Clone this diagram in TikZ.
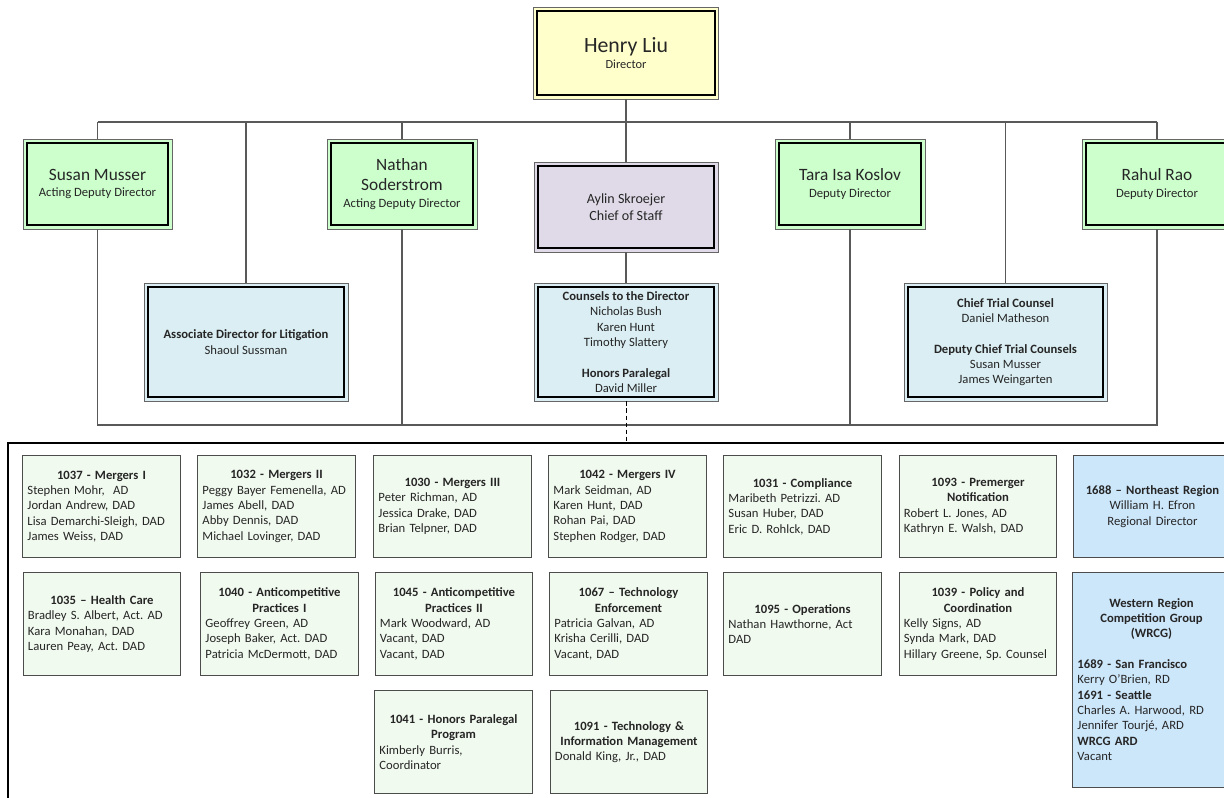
\documentclass[tikz,border=0pt]{standalone}
\usepackage{fontspec}
\setmainfont{Carlito}
\frenchspacing
\hyphenpenalty=10000
\exhyphenpenalty=10000
\definecolor{dirfill}{HTML}{FFFFCC}
\definecolor{deputyfill}{HTML}{CCFFCC}
\definecolor{stafffill}{HTML}{E0DAE8}
\definecolor{officefill}{HTML}{DAEEF3}
\definecolor{unitfill}{HTML}{F1FAEF}
\definecolor{regionfill}{HTML}{CCE6FA}
\newcommand\hdr[1]{\makebox[\hsize]{\bfseries #1}}
\newcommand\namefont{\fontsize{12.3}{15}\selectfont}

\begin{document}
\begin{tikzpicture}[x=0.025cm,y=-0.025cm,
    font=\fontsize{9}{10.9}\selectfont,
    boss/.style={draw=black!60,line width=0.6pt,align=center,text=black!85,
        path picture={\draw[black,line width=1.4pt]
            ([shift={(2.6pt,2.6pt)}]path picture bounding box.south west) rectangle
            ([shift={(-2.6pt,-2.6pt)}]path picture bounding box.north east);}},
    director/.style={boss,fill=dirfill,minimum width=4.625cm,minimum height=2.3cm},
    deputy/.style={boss,fill=deputyfill,minimum width=3.75cm,minimum height=2.25cm},
    staff/.style={boss,fill=stafffill,minimum width=4.6cm,minimum height=2.25cm,
        font=\fontsize{10}{11.8}\selectfont},
    office/.style={boss,fill=officefill,minimum height=2.95cm},
    unit/.style={draw=black!70,line width=0.6pt,fill=unitfill,text=black!85,
        minimum width=3.925cm,minimum height=2.56cm,text width=3.7cm,align=left},
    region/.style={unit,fill=regionfill},
    link/.style={draw=black!65,line width=0.9pt},
    bureau/.style={draw=black,line width=1.8pt,minimum width=30.8cm,minimum height=9.175cm}]

        \clip (0,0) rectangle (1224,797);

        %%%%%%%%% Director %%%%%%%%%
        \node[director] (Henry) at (626,53) {{\fontsize{15.5}{18}\selectfont Henry Liu}\\[1pt]{\fontsize{8.8}{10}\selectfont Director}};

        %%%%%%%%% Deputies %%%%%%%%%
        \node[deputy,minimum width=3.725cm] (Susan) at (97.5,184) {{\namefont Susan Musser}\\[1pt]Acting Deputy Director};
        \node[deputy] (Nathan) at (402,184) {{\namefont Nathan}\\[3.5pt]{\namefont Soderstrom}\\[1pt]Acting Deputy Director};
        \node[staff] (Aylin) at (626,207) {Aylin Skroejer\\Chief of Staff};
        \node[deputy] (Tara) at (850,184) {{\namefont Tara Isa Koslov}\\[1pt]Deputy Director};
        \node[deputy] (Rahul) at (1157,184) {{\namefont Rahul Rao}\\[1pt]Deputy Director};

        %%%%%%%%% Offices %%%%%%%%%%
        \node[office,minimum width=5.1cm] (Litigation) at (246,342) {\textbf{Associate Director for Litigation}\\Shaoul Sussman};
        \node[office,minimum width=4.6cm] (Counsels) at (626,342) {\textbf{Counsels to the Director}\\Nicholas Bush\\Karen Hunt\\Timothy Slattery\\[10.9pt]\textbf{Honors Paralegal}\\David Miller};
        \node[office,minimum width=5.075cm] (TrialCounsel) at (1005.5,342) {\textbf{Chief Trial Counsel}\\Daniel Matheson\\[10.9pt]\textbf{Deputy Chief Trial Counsels}\\Susan Musser\\James Weingarten};

        %%%%%%%%% Bureau %%%%%%%%%%
        \node[bureau] (Bureau) at (624,626.5) {};

        %%%%%%%%% Row 1 %%%%%%%%%%%
        \node[unit] (U1037) at (101.5,506.5) {\hdr{1037 - Mergers I}\\Stephen Mohr,~ AD\\Jordan Andrew, DAD\\Lisa Demarchi-Sleigh, DAD\\James Weiss, DAD};
        \node[unit] (U1032) at (276.5,506.5) {\hdr{1032 - Mergers II}\\Peggy Bayer Femenella, AD\\James Abell, DAD\\Abby Dennis, DAD\\Michael Lovinger, DAD};
        \node[unit] (U1030) at (452.5,506.5) {\hdr{1030 - Mergers III}\\Peter Richman, AD\\Jessica Drake, DAD\\Brian Telpner, DAD};
        \node[unit] (U1042) at (627.5,506.5) {\hdr{1042 - Mergers IV}\\Mark Seidman, AD\\Karen Hunt, DAD\\Rohan Pai, DAD\\Stephen Rodger, DAD};
        \node[unit] (U1031) at (802.5,506.5) {\hdr{1031 - Compliance}\\Maribeth Petrizzi. AD\\Susan Huber, DAD\\Eric D. Rohlck, DAD};
        \node[unit] (U1093) at (978,506.5) {\hdr{1093 - Premerger}\\\hdr{Notification}\\Robert L. Jones, AD\\Kathryn E. Walsh, DAD};
        \node[region,align=center] (U1688) at (1152.5,506.5) {\textbf{1688 – Northeast Region}\\William H. Efron\\Regional Director};

        %%%%%%%%% Row 2 %%%%%%%%%%%
        \node[unit] (U1035) at (102,624) {\hdr{1035 – Health Care}\\Bradley S. Albert, Act. AD\\Kara Monahan, DAD\\Lauren Peay, Act. DAD};
        \node[unit] (U1040) at (279.5,624) {\hdr{1040 - Anticompetitive}\\\hdr{Practices I}\\Geoffrey Green, AD\\Joseph Baker, Act. DAD\\Patricia McDermott, DAD};
        \node[unit] (U1045) at (454,624) {\hdr{1045 - Anticompetitive}\\\hdr{Practices II}\\Mark Woodward, AD\\Vacant, DAD\\Vacant, DAD};
        \node[unit] (U1067) at (628.5,624) {\hdr{1067 – Technology}\\\hdr{Enforcement}\\Patricia Galvan, AD\\Krisha Cerilli, DAD\\Vacant, DAD};
        \node[unit] (U1095) at (802.5,624) {\hdr{1095 - Operations}\\Nathan Hawthorne, Act\\DAD};
        \node[unit] (U1039) at (978,624) {\hdr{1039 - Policy and}\\\hdr{Coordination}\\Kelly Signs, AD\\Synda Mark, DAD\\Hillary Greene, Sp. Counsel};
        \node[region,minimum height=5.375cm] (WRCG) at (1151.5,679.5) {\hdr{Western Region}\\\hdr{Competition Group}\\\hdr{(WRCG)}\\[10.9pt]\textbf{1689 - San Francisco}\\Kerry O’Brien, RD\\\textbf{1691 - Seattle}\\Charles A. Harwood, RD\\Jennifer Tourjé, ARD\\\textbf{WRCG ARD}\\Vacant};

        %%%%%%%%% Row 3 %%%%%%%%%%%
        \node[unit] (U1041) at (453.5,742) {\hdr{1041 - Honors Paralegal}\\\hdr{Program}\\Kimberly Burris,\\Coordinator};
        \node[unit] (U1091) at (629,742) {\hdr{1091 - Technology \&}\\\hdr{Information Management}\\Donald King, Jr., DAD};

        %%%%%%%%% Links %%%%%%%%%%%
        \coordinate (topbus) at (626,122);
        \coordinate (lowbus) at (626,425);
        \draw[link] (Henry.south) -- (Aylin.north);
        \draw[link] (Susan.north |- topbus) -- (Rahul.north |- topbus);
        \draw[link] (Susan.north |- topbus) -- (Susan.north);
        \draw[link] (Litigation.north |- topbus) -- (Litigation.north);
        \draw[link] (Nathan.north |- topbus) -- (Nathan.north);
        \draw[link] (Tara.north |- topbus) -- (Tara.north);
        \draw[link] (TrialCounsel.north |- topbus) -- (TrialCounsel.north);
        \draw[link] (Rahul.north |- topbus) -- (Rahul.north);
        \draw[link] (Susan.south) -- (Susan.south |- lowbus) -- (Rahul.south |- lowbus) -- (Rahul.south);
        \draw[link] (Nathan.south) -- (Nathan.south |- lowbus);
        \draw[link] (Tara.south) -- (Tara.south |- lowbus);
        \draw[link] (Aylin.south) -- (Counsels.north);
        \draw[densely dashed,line width=0.5pt] (Counsels.south) -- (Counsels.south |- Bureau.north);
\end{tikzpicture}
\end{document}
